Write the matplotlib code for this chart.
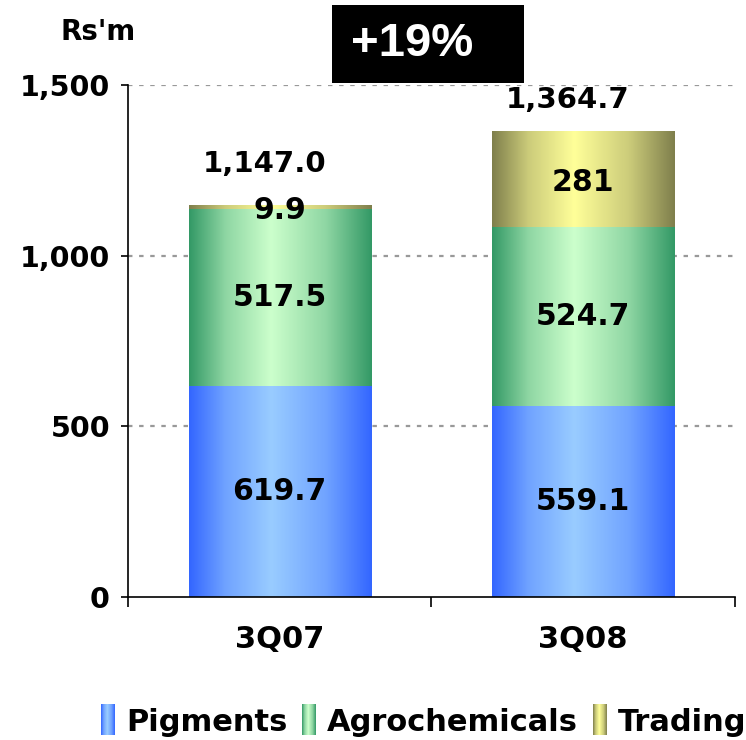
import numpy as np
import matplotlib
matplotlib.use("Agg")
import matplotlib.pyplot as plt
from matplotlib.colors import LinearSegmentedColormap
from matplotlib.patches import Rectangle
from matplotlib.legend_handler import HandlerBase
from matplotlib.image import BboxImage
from matplotlib.transforms import Bbox, TransformedBbox

quarters = ["3Q07", "3Q08"]
pigments = [619.7, 559.1]
agrochemicals = [517.5, 524.7]
trading = [9.9, 281.0]
trading_labels = ["9.9", "281"]
totals = [1147.0, 1364.7]
growth_label = "+19%"

series = [
    ("Pigments", pigments, "#3366FF", "#99CCFF"),
    ("Agrochemicals", agrochemicals, "#339966", "#CCFFCC"),
    ("Trading", trading, "#7F7F4C", "#FFFF99"),
]

plt.rcParams["font.family"] = "DejaVu Sans"
plt.rcParams["font.weight"] = "bold"

# horizontal shading: dark edges, light band a little left of centre
grad = np.interp(np.linspace(0, 1, 256), [0, 0.2, 0.45, 0.75, 1], [0, 0.6, 1, 0.6, 0])
grad = grad.reshape(1, -1)


def edge_cmap(edge, centre):
    return LinearSegmentedColormap.from_list("g", [edge, centre])


fig = plt.figure(figsize=(7.46, 7.40), dpi=100)
ax = fig.add_axes([0.1716, 0.1932, 0.8134, 0.6919])

x = np.arange(len(quarters))
bottom = np.zeros(len(quarters))
proxies, handlers = [], {}
for name, vals, edge, centre in series:
    cmap = edge_cmap(edge, centre)
    bars = ax.bar(x, vals, 0.6, bottom=bottom, facecolor="none", edgecolor="none", zorder=3)
    for b in bars:
        img = ax.imshow(grad, cmap=cmap, vmin=0, vmax=1, aspect="auto", interpolation="bicubic",
                        extent=[b.get_x(), b.get_x() + b.get_width(), b.get_y(), b.get_y() + b.get_height()],
                        zorder=2)
        img.set_clip_path(b)
    p = Rectangle((0, 0), 1, 1, label=name)
    proxies.append(p)
    handlers[p] = cmap
    bottom = bottom + np.array(vals)

# segment value labels
for i in range(len(quarters)):
    ax.text(x[i], pigments[i] / 2, f"{pigments[i]:.1f}", ha="center", va="center", fontsize=21.5, zorder=5)
    ax.text(x[i], pigments[i] + agrochemicals[i] / 2, f"{agrochemicals[i]:.1f}",
            ha="center", va="center", fontsize=21.5, zorder=5)
    base = pigments[i] + agrochemicals[i]
    ax.text(x[i], base + trading[i] / 2, trading_labels[i], ha="center",
            va="center_baseline", fontsize=21.5, zorder=5)

# totals above the stacks, nudged left of the bar centre
total_offsets = [42, 31]
for i, t in enumerate(totals):
    ax.annotate(f"{t:,.1f}", (x[i], t), xytext=(-11, total_offsets[i] * 0.72),
                textcoords="offset points", ha="center", va="center", fontsize=21)

ax.set_xlim(-0.5, 1.5)
ax.set_ylim(0, 1500)
ax.set_yticks([0, 500, 1000, 1500])
ax.set_yticklabels([f"{v:,}" for v in [0, 500, 1000, 1500]], fontsize=20.5)
ax.set_xticks([-0.5, 0.5, 1.5])
ax.set_xticklabels([])
ax.set_xticks(x, minor=True)
ax.set_xticklabels(quarters, minor=True, fontsize=22)
ax.tick_params(axis="x", which="major", direction="out", length=7, width=1.2)
ax.tick_params(axis="x", which="minor", length=0, pad=20)
ax.tick_params(axis="y", direction="out", length=5, width=1.2, pad=8)

for s in ["top", "right"]:
    ax.spines[s].set_visible(False)
for s in ["left", "bottom"]:
    ax.spines[s].set_linewidth(1.2)

for v in [500, 1000, 1500]:
    ax.axhline(v, color="#999999", lw=1.6, ls=(0, (2, 3)), zorder=1)

fig.text(0.132, 0.957, "Rs'm", ha="center", va="center", fontsize=20)

fig.patches.append(Rectangle((0.445, 0.8878), 0.2574, 0.1054, transform=fig.transFigure,
                             facecolor="black", edgecolor="none"))
fig.text(0.471, 0.9405, growth_label, ha="left", va="center", color="white",
         fontsize=34, family="Liberation Sans", weight="bold")


class GradientHandler(HandlerBase):
    def create_artists(self, legend, orig_handle, xdescent, ydescent, width, height, fontsize, trans):
        box = Bbox.from_bounds(-xdescent, -ydescent - 3, width, height + 6)
        img = BboxImage(TransformedBbox(box, trans), cmap=handlers[orig_handle],
                        norm=plt.Normalize(0, 1), interpolation="bicubic")
        img.set_data(grad)
        return [img]


hmap = {p: GradientHandler() for p in proxies}
fig.legend(handles=proxies, handler_map=hmap, loc="center", bbox_to_anchor=(0.568, 0.024),
           ncol=3, frameon=False, fontsize=22, handlelength=0.45, handleheight=0.75,
           handletextpad=0.35, columnspacing=0.5, borderaxespad=0)

fig.savefig("out.png", dpi=100)
